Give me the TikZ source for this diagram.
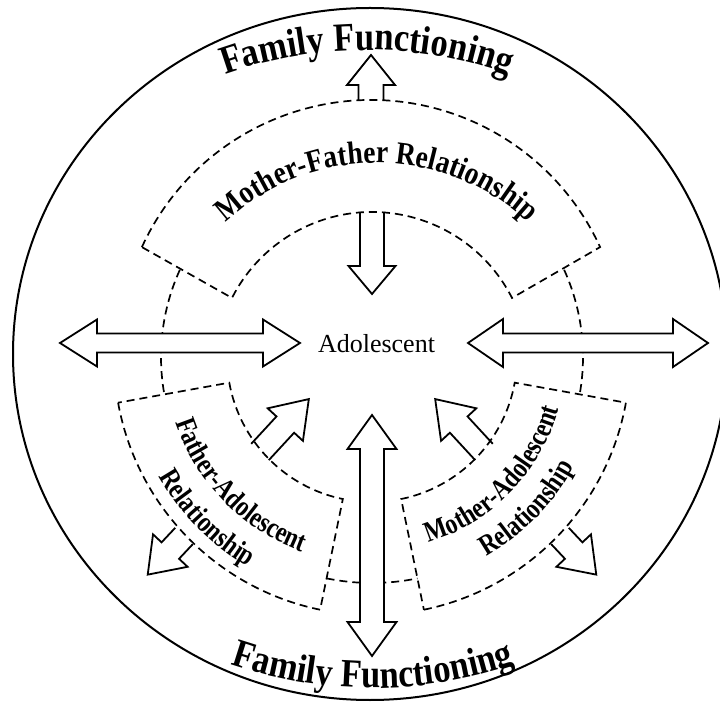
\documentclass[tikz,border=0pt]{standalone}
\usepackage{fontspec}
\setmainfont{Liberation Serif}
\newfontfamily\cserif[FakeStretch=0.86]{Liberation Serif}
\newfontfamily\ccserif[FakeStretch=0.82]{Liberation Serif}
\usetikzlibrary{calc,decorations.text}
\tikzset{
  dsh/.style={line width=1.7pt, dash pattern=on 8pt off 5pt},
  arrowbody/.style={draw, fill=white, line width=1.8pt, line join=miter},
  outerc/.style={line width=2pt},
}
\newcommand{\famfont}{\cserif\fontsize{40}{40}\selectfont\bfseries}
\newcommand{\mffont}{\cserif\fontsize{32}{32}\selectfont\bfseries}
\newcommand{\secfont}{\ccserif\fontsize{29}{29}\selectfont\bfseries}
% single block arrow: base, angle, length, head length, head half width, shaft half width
\newcommand{\blockarr}[6]{%
  \begin{scope}[shift={#1}, rotate=#2]
    \path[arrowbody] (0,-#6) -- ({#3-#4},-#6) -- ({#3-#4},-#5) -- (#3,0)
      -- ({#3-#4},#5) -- ({#3-#4},#6) -- (0,#6);
  \end{scope}}
% double block arrow: centre, angle, half length, head length, head half width, shaft half width
\newcommand{\dblarr}[6]{%
  \begin{scope}[shift={#1}, rotate=#2]
    \path[arrowbody] (-#3,0) -- ({-#3+#4},#5) -- ({-#3+#4},#6) -- ({#3-#4},#6)
      -- ({#3-#4},#5) -- (#3,0) -- ({#3-#4},-#5) -- ({#3-#4},-#6)
      -- ({-#3+#4},-#6) -- ({-#3+#4},-#5) -- cycle;
  \end{scope}}
\begin{document}
\begin{tikzpicture}[x=1pt,y=1pt]
\useasboundingbox (0,0) rectangle (720,702);
\coordinate (C) at (372,345);
\coordinate (TO) at (371,350);
\coordinate (TI) at (372,333);
\coordinate (MF) at (377,317);
\coordinate (FT) at (367,232);
\coordinate (FB) at (373,454);
\coordinate (O) at (370,348);

% outer circle
\begin{scope}
  \clip (0,0) rectangle (720,702);
  \draw[outerc] (O) ellipse [x radius=357, y radius=346];
\end{scope}

% single arrows (open bases on the dashed arcs)
\blockarr{(371,601)}{90}{46}{30}{24}{12.5}
\blockarr{(372,490)}{-90}{82}{28}{23.5}{12}
\blockarr{(260,250)}{47.3}{72}{34.7}{24}{12}
\blockarr{(484,250)}{132.7}{72}{34.7}{24}{12}
\blockarr{(184,166)}{226.8}{53}{33}{23.7}{12}
\blockarr{(560,166)}{313.2}{53}{33}{23.7}{12}

% dashed sectors
\draw[dsh] ($(TO)+(155.4:252)$) arc[start angle=155.4, end angle=24.6, radius=252]
   -- ($(TI)+(26.9:157)$) arc[start angle=26.9, end angle=153.1, radius=157] -- cycle;
\draw[dsh] ($(C)+(190.2:258)$) arc[start angle=190.2, end angle=258.4, radius=258]
   -- ($(C)+(258.4:145)$) arc[start angle=258.4, end angle=190.2, radius=145] -- cycle;
\draw[dsh] ($(C)+(281.6:258)$) arc[start angle=281.6, end angle=349.8, radius=258]
   -- ($(C)+(349.8:145)$) arc[start angle=349.8, end angle=281.6, radius=145] -- cycle;
% dashed connecting arcs
\draw[dsh] ($(C)+(155.6:211)$) arc[start angle=155.6, end angle=190.2, radius=211];
\draw[dsh] ($(C)+(24.4:211)$) arc[start angle=24.4, end angle=-10.2, radius=211];
\draw[dsh] ($(C)+(258.4:226)$) arc[start angle=258.4, end angle=281.6, radius=226];

% double arrows
\dblarr{(180,359)}{0}{120}{37}{23.5}{9.5}
\dblarr{(588,359)}{0}{120}{35}{24}{9.5}
\dblarr{(372,166.5)}{90}{120.5}{34}{24.5}{12}

% texts
\node[anchor=base, font=\fontsize{26}{26}\selectfont] (adol) at (376.5,349) {Adolescent};

\path[decorate, decoration={text along path, text align=center,
   text={|\famfont|Family Functioning}}]
   ($(FT)+(125:420)$) arc[start angle=125, end angle=55, radius=420];
\path[decorate, decoration={text along path, text align=center,
   text={|\famfont|Family Functioning}}]
   ($(FB)+(240:440)$) arc[start angle=240, end angle=300, radius=440];
\path[decorate, decoration={text along path, text align=center,
   text={|\mffont|Mother-Father Relationship}}]
   ($(MF)+(140:222)$) arc[start angle=140, end angle=40, radius=222];
\path[decorate, decoration={text along path, text align=center,
   text={|\secfont|Father-Adolescent}}]
   ($(C)+(194:207)$) arc[start angle=194, end angle=254.6, radius=207];
\path[decorate, decoration={text along path, text align=center,
   text={|\secfont|Relationship}}]
   ($(C)+(194:244)$) arc[start angle=194, end angle=254.6, radius=244];
\path[decorate, decoration={text along path, text align=center,
   text={|\secfont|Mother-Adolescent}}]
   ($(C)+(285.4:194)$) arc[start angle=285.4, end angle=346, radius=194];
\path[decorate, decoration={text along path, text align=center,
   text={|\secfont|Relationship}}]
   ($(C)+(285.4:230)$) arc[start angle=285.4, end angle=346, radius=230];
\end{tikzpicture}
\end{document}
